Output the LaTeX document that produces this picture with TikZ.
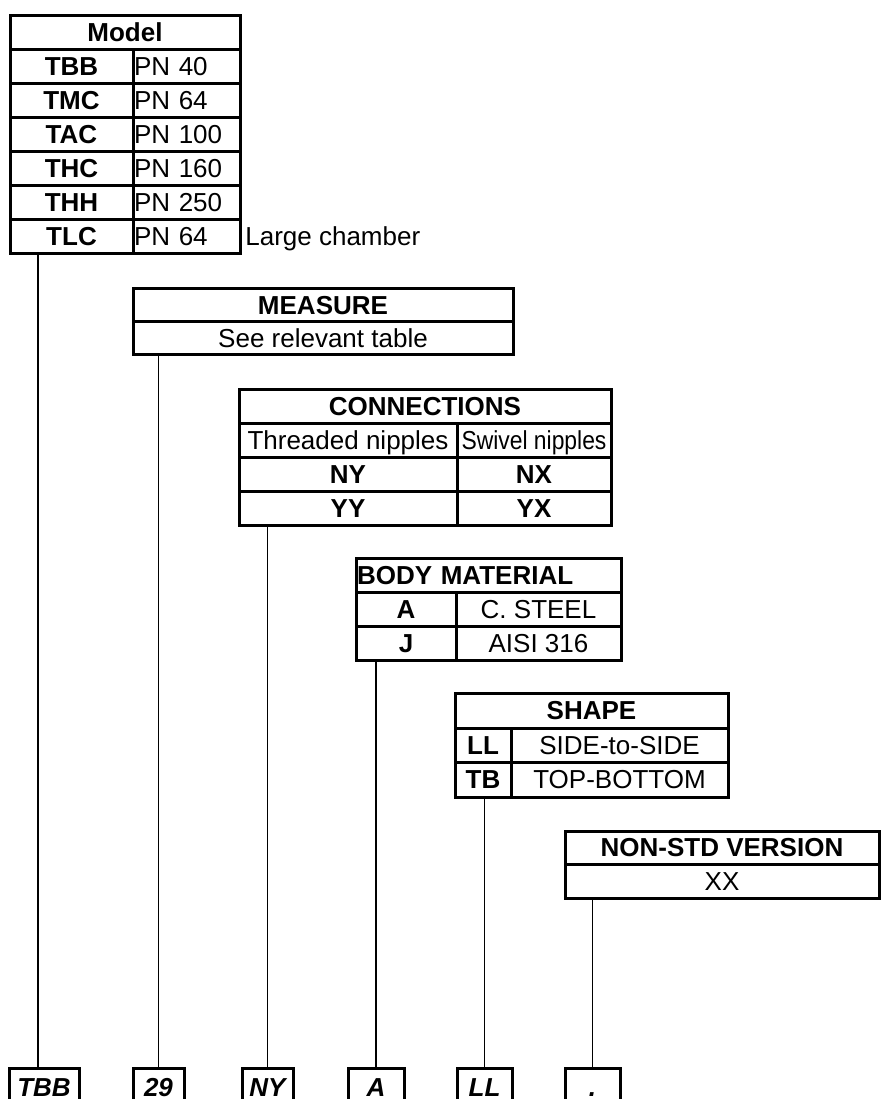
\documentclass[tikz,border=0pt]{standalone}
\usepackage{fontspec}
\setmainfont{Liberation Sans}
\usetikzlibrary{calc}

\newcommand*{\px}{0.5pt}
\newcommand*{\tabfont}{\fontsize{13}{15}\selectfont}

\begin{document}
\begin{tikzpicture}
[
	x=\px, y=-\px,
	cell/.style={draw,line width=1.5pt,inner sep=0pt,outer sep=0pt,font=\tabfont,text height=9.3pt,text depth=0pt},
	bcell/.style={cell,font=\tabfont\bfseries},
	lcell/.style={cell,align=left,inner xsep=1*\px},
	outbox/.style={draw,line width=1.5pt,inner sep=0pt,outer sep=0pt,anchor=north,minimum height=38*\px,font=\tabfont\bfseries\itshape,text height=9.3pt,text depth=0pt},
	wire/.style={line width=0.7pt}
]

	\useasboundingbox (0,0) rectangle (881,1099);

	% model table
	\node[bcell,minimum width=230*\px,minimum height=34*\px] (model) at (125,32) {Model};
	\node[bcell,minimum width=123*\px,minimum height=34*\px] (tbb) at (71.5,66) {TBB};
	\node[lcell,text width=105*\px,minimum height=34*\px] (pn40) at (186.5,66) {PN 40};
	\node[bcell,minimum width=123*\px,minimum height=34*\px] (tmc) at (71.5,100) {TMC};
	\node[lcell,text width=105*\px,minimum height=34*\px] (pn64) at (186.5,100) {PN 64};
	\node[bcell,minimum width=123*\px,minimum height=34*\px] (tac) at (71.5,134) {TAC};
	\node[lcell,text width=105*\px,minimum height=34*\px] (pn100) at (186.5,134) {PN 100};
	\node[bcell,minimum width=123*\px,minimum height=34*\px] (thc) at (71.5,168) {THC};
	\node[lcell,text width=105*\px,minimum height=34*\px] (pn160) at (186.5,168) {PN 160};
	\node[bcell,minimum width=123*\px,minimum height=34*\px] (thh) at (71.5,202) {THH};
	\node[lcell,text width=105*\px,minimum height=34*\px] (pn250) at (186.5,202) {PN 250};
	\node[bcell,minimum width=123*\px,minimum height=34*\px] (tlc) at (71.5,236) {TLC};
	\node[lcell,text width=105*\px,minimum height=34*\px] (pn64l) at (186.5,236) {PN 64};
	\node[anchor=west,inner sep=0pt,font=\tabfont,text height=9.3pt,text depth=0pt] (large) at (245,236) {Large chamber};

	% measure table
	\node[bcell,minimum width=380*\px,minimum height=33*\px] (measure) at (323,305) {MEASURE};
	\node[cell,minimum width=380*\px,minimum height=33*\px] (seetable) at (323,338) {See relevant table};

	% connections table
	\node[bcell,minimum width=372*\px,minimum height=34*\px] (conn) at (425,406) {CONNECTIONS};
	\node[cell,minimum width=218*\px,minimum height=34*\px] (threaded) at (348,440) {Threaded nipples};
	\node[cell,minimum width=154*\px,minimum height=34*\px] (swivel) at (534,440) {\scalebox{0.88}[1]{Swivel nipples}};
	\node[bcell,minimum width=218*\px,minimum height=34*\px] (ny) at (348,474) {NY};
	\node[bcell,minimum width=154*\px,minimum height=34*\px] (nx) at (534,474) {NX};
	\node[bcell,minimum width=218*\px,minimum height=34*\px] (yy) at (348,508) {YY};
	\node[bcell,minimum width=154*\px,minimum height=34*\px] (yx) at (534,508) {YX};

	% body material table
	\node[bcell,align=left,inner xsep=1*\px,text width=263*\px,minimum height=34*\px] (body) at (488.5,575) {BODY MATERIAL};
	\node[bcell,minimum width=100*\px,minimum height=34*\px] (mata) at (406,609) {A};
	\node[cell,minimum width=165*\px,minimum height=34*\px] (steel) at (538.5,609) {C. STEEL};
	\node[bcell,minimum width=100*\px,minimum height=34*\px] (matj) at (406,643) {J};
	\node[cell,minimum width=165*\px,minimum height=34*\px] (aisi) at (538.5,643) {AISI 316};

	% shape table
	\node[bcell,minimum width=273*\px,minimum height=35*\px] (shape) at (591.5,710.5) {SHAPE};
	\node[bcell,minimum width=56*\px,minimum height=34*\px] (ll) at (483,745) {LL};
	\node[cell,minimum width=217*\px,minimum height=34*\px] (side) at (619.5,745) {SIDE-to-SIDE};
	\node[bcell,minimum width=56*\px,minimum height=35*\px] (tb) at (483,779.5) {TB};
	\node[cell,minimum width=217*\px,minimum height=35*\px] (top) at (619.5,779.5) {TOP-BOTTOM};

	% non-standard version table
	\node[bcell,minimum width=314*\px,minimum height=33*\px] (nonstd) at (722,847.5) {NON-STD VERSION};
	\node[cell,minimum width=314*\px,minimum height=34*\px] (xx) at (722,881) {XX};

	% code boxes
	\node[outbox,minimum width=70*\px] (codemodel) at (44,1068) {TBB};
	\node[outbox,minimum width=51*\px] (codemeasure) at (158.5,1068) {29};
	\node[outbox,minimum width=51*\px] (codeconn) at (267.5,1068) {NY};
	\node[outbox,minimum width=56*\px] (codebody) at (376,1068) {A};
	\node[outbox,minimum width=55*\px] (codeshape) at (484.5,1068) {LL};
	\node[outbox,minimum width=55*\px] (codever) at (592.5,1068) {.};

	% connectors
	\draw[wire] ($(codemodel.north)+(-6,0)$) -- ($(codemodel.north |- tlc.south)+(-6,0)$);
	\draw[wire] (codemeasure.north) -- (codemeasure.north |- seetable.south);
	\draw[wire] (codeconn.north) -- (codeconn.north |- yy.south);
	\draw[wire] (codebody.north) -- (codebody.north |- matj.south);
	\draw[wire] (codeshape.north) -- (codeshape.north |- tb.south);
	\draw[wire] (codever.north) -- (codever.north |- xx.south);

\end{tikzpicture}
\end{document}
